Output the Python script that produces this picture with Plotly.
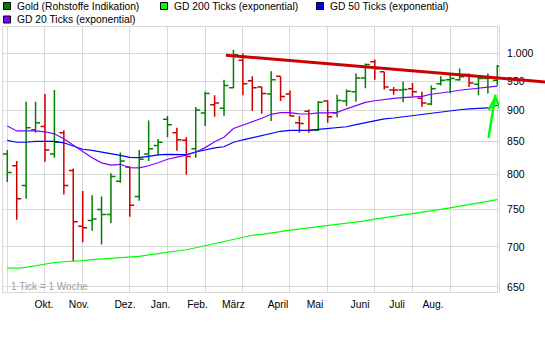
import math
import plotly.graph_objects as go

# ---------------- data (weekly bars, 1 Tick = 1 Woche) ----------------
OPEN = [831, 813, 784, 869, 874, 831, 864, 806, 727, 735, 750, 743, 790, 811, 768, 831, 844, 886,
        864, 852, 839, 896, 910, 904, 939, 988, 951, 940, 928, 959, 928, 880, 899, 868, 916, 896,
        916, 932, 956, 985, 967, 935, 935, 937, 921, 911, 946, 953, 953, 962, 945, 955, 952]
HIGH = [837, 820, 915, 915, 928, 935, 868, 809, 776, 770, 768, 802, 833, 812, 837, 884, 854, 891,
        872, 857, 906, 932, 926, 953, 1007, 1000, 959, 940, 968, 959, 934, 891, 902, 916, 917, 927,
        936, 964, 982, 989, 967, 940, 950, 947, 932, 943, 959, 965, 973, 964, 958, 964, 979]
LOW = [789, 736, 765, 864, 819, 825, 771, 682, 706, 721, 703, 731, 788, 740, 762, 820, 829, 857,
       836, 800, 825, 875, 890, 891, 938, 926, 900, 895, 883, 916, 891, 864, 864, 867, 880, 889,
       908, 915, 938, 953, 936, 927, 914, 924, 906, 909, 943, 929, 951, 940, 926, 929, 943]
CLOSE = [803, 765, 872, 880, 837, 849, 784, 733, 725, 737, 743, 797, 820, 756, 823, 839, 849, 877,
         853, 827, 901, 929, 913, 943, 998, 946, 939, 929, 953, 924, 891, 879, 868, 914, 890, 917,
         933, 956, 980, 973, 940, 935, 936, 932, 913, 937, 952, 955, 958, 947, 955, 956, 977]

GD200 = [673, 673, 674, 676, 678.5, 680, 681, 681.5, 682.5, 683.6, 684.4, 685.7, 686.6, 686.6, 687.8,
         689.7, 691.2, 693, 694.3, 696.2, 698.8, 701.4, 704.2, 707.2, 709.8, 712.5, 715.1, 716.4,
         717.8, 719.8, 721.8, 723.4, 725.1, 726.5, 727.8, 729.2, 730.6, 732.4, 734.4, 736.7, 738.5,
         740.6, 742.6, 744.7, 746.4, 748.2, 750.2, 752.3, 754.4, 756.5, 758.6, 760.7, 763.8]
GD50 = [852, 849, 849, 850.5, 850.5, 850.5, 848.2, 842.7, 838.1, 836.5, 834.2, 831.1, 828.8, 825.8,
        825.3, 827.3, 829.6, 830.4, 830.1, 829.9, 833.9, 837.6, 840.4, 842, 849, 852.9, 856.1, 859.2,
        862.7, 866.4, 868, 868, 868, 869.6, 871.2, 872, 873.7, 877, 880.3, 884.1, 886.6, 887.9, 889.9,
        892.3, 893.2, 895.7, 897.8, 899.5, 901.5, 903.1, 904, 904.5, 909]
GD20 = [875, 866.9, 866.9, 866.9, 865.6, 862.4, 854.5, 844.3, 833.9, 825, 817.4, 814, 815.2, 810,
        809.7, 813, 817.5, 822.8, 826, 829.2, 833.9, 840.7, 849.8, 856.9, 870.8, 876.3, 881.1, 887.4,
        894, 896.8, 896.8, 894.8, 894.5, 896.2, 896.5, 897.3, 903.1, 909, 914, 916.6, 919.1, 920.8,
        922, 923.4, 924.2, 927.7, 929.4, 932, 934.6, 936.3, 938.1, 939.8, 941.6]

WEEKS = list(range(len(CLOSE)))

MONTHS = ["Okt.", "Nov.", "Dez.", "Jan.", "Feb.", "März", "April", "Mai", "Juni", "Juli", "Aug."]
MONTH_LABEL_POS = [3.89, 7.61, 12.49, 16.26, 20.18, 24.0, 28.73, 32.65, 37.43, 41.36, 45.18]
MONTH_GRID_POS = [0, 4, 8, 13, 17, 21, 25, 30, 34, 39, 43, 47, 52]

Y_TICKS = [650, 700, 750, 800, 850, 900, 950, 1000]
Y_TICKTEXT = ["650", "700", "750", "800", "850", "900", "950", "1.000"]

# hand-drawn resistance line and arrow (in week-index / price units)
TREND_X = [23.2, 57.08]
TREND_Y = [997, 949]
ARROW_X = [51.07, 51.81, None, 51.07, 51.81, 52.34]
ARROW_Y = [856, 927, None, 901, 922.5, 901]

LEGEND = [("Gold (Rohstoffe Indikation)", "#008000"),
          ("GD 200 Ticks (exponential)", "#00ff00"),
          ("GD 50 Ticks (exponential)", "#0000ff"),
          ("GD 20 Ticks (exponential)", "#8000ff")]

# ---------------- layout geometry ----------------
W, H = 545, 345
ML, MR, MT, MB = 3, 46, 27, 53
PW, PH = W - ML - MR, H - MT - MB
X_RANGE = [-0.456, 52.18]
Y_RANGE = [math.log10(644.0), math.log10(1050.3)]
GRID = "#d9d9d9"
FONT = "Liberation Sans"


def xp(i):
    return (i - X_RANGE[0]) / (X_RANGE[1] - X_RANGE[0])


def yp(v):
    return (math.log10(v) - Y_RANGE[0]) / (Y_RANGE[1] - Y_RANGE[0])


def px_x(px):
    return (px - ML) / PW


def px_y(py):
    return (H - MB - py) / PH


fig = go.Figure()

fig.add_trace(go.Scatter(x=WEEKS, y=GD200, mode="lines", line=dict(color="#00ff00", width=1.2),
                         hoverinfo="skip", showlegend=False))
fig.add_trace(go.Scatter(x=WEEKS, y=GD50, mode="lines", line=dict(color="#0000ff", width=1.2),
                         hoverinfo="skip", showlegend=False))
fig.add_trace(go.Scatter(x=WEEKS, y=GD20, mode="lines", line=dict(color="#8000ff", width=1.2),
                         hoverinfo="skip", showlegend=False))

up = [True] + [CLOSE[i] >= CLOSE[i - 1] for i in range(1, len(CLOSE))]
for flag, col in ((True, "#008000"), (False, "#cc0000")):
    idx = [i for i in WEEKS if up[i] == flag]
    fig.add_trace(go.Ohlc(
        x=idx,
        open=[OPEN[i] for i in idx], high=[HIGH[i] for i in idx],
        low=[LOW[i] for i in idx], close=[CLOSE[i] for i in idx],
        increasing=dict(line=dict(color=col, width=1.5)),
        decreasing=dict(line=dict(color=col, width=1.5)),
        tickwidth=0.47, showlegend=False, hoverinfo="skip"))

fig.add_trace(go.Scatter(x=ARROW_X, y=ARROW_Y, mode="lines", line=dict(color="#00ff00", width=2.5),
                         hoverinfo="skip", showlegend=False, connectgaps=False))

# dummy trace for the month-label axis
fig.add_trace(go.Scatter(x=[MONTH_LABEL_POS[0]], y=[800], xaxis="x2", mode="markers",
                         marker=dict(opacity=0), hoverinfo="skip", showlegend=False))

shapes = [dict(type="line", xref="paper", yref="paper",
               x0=xp(TREND_X[0]), y0=yp(TREND_Y[0]), x1=xp(TREND_X[1]), y1=yp(TREND_Y[1]),
               line=dict(color="#cc0000", width=3))]
annotations = []
legend_pos = [(3.5, 6), (160.5, 6), (316.5, 6), (3.5, 19.5)]
for (name, col), (lx, ly) in zip(LEGEND, legend_pos):
    shapes.append(dict(type="rect", xref="paper", yref="paper",
                       x0=px_x(lx), x1=px_x(lx + 7), y0=px_y(ly - 3.5), y1=px_y(ly + 3.5),
                       fillcolor=col, line=dict(color="#000000", width=1)))
    annotations.append(dict(text=name, xref="paper", yref="paper", x=px_x(lx + 11), y=px_y(ly),
                            xanchor="left", yanchor="middle", showarrow=False,
                            font=dict(family=FONT, size=10.3, color="#000000")))
annotations.append(dict(text="1 Tick = 1 Woche", xref="paper", yref="paper", x=px_x(9), y=px_y(286),
                        xanchor="left", yanchor="middle", showarrow=False,
                        font=dict(family=FONT, size=10, color="#a0a0a0")))

fig.update_layout(
    width=W, height=H, margin=dict(l=ML, r=MR, t=MT, b=MB, pad=0),
    paper_bgcolor="white", plot_bgcolor="white", showlegend=False,
    font=dict(family=FONT, size=10, color="#000000"),
    xaxis=dict(range=X_RANGE, tickvals=MONTH_GRID_POS, showticklabels=False, showgrid=True,
               gridcolor=GRID, gridwidth=1, zeroline=False, showline=True, linecolor=GRID,
               linewidth=1, mirror=True, ticks="", rangeslider=dict(visible=False), fixedrange=True),
    xaxis2=dict(range=X_RANGE, overlaying="x", side="bottom", anchor="y", tickvals=MONTH_LABEL_POS,
                ticktext=MONTHS, showgrid=False, zeroline=False, showline=False, ticks="",
                ticklabelstandoff=5,
                tickfont=dict(family=FONT, size=10.3, color="#000000")),
    yaxis=dict(type="log", range=Y_RANGE, side="right", tickvals=Y_TICKS, ticktext=Y_TICKTEXT,
               showgrid=True, gridcolor=GRID, gridwidth=1, zeroline=False, showline=True,
               linecolor=GRID, linewidth=1, mirror=True, ticks="", ticklabelstandoff=5,
               tickfont=dict(family=FONT, size=10.5, color="#000000")),
    shapes=shapes, annotations=annotations,
)

fig.write_html("out.html")
